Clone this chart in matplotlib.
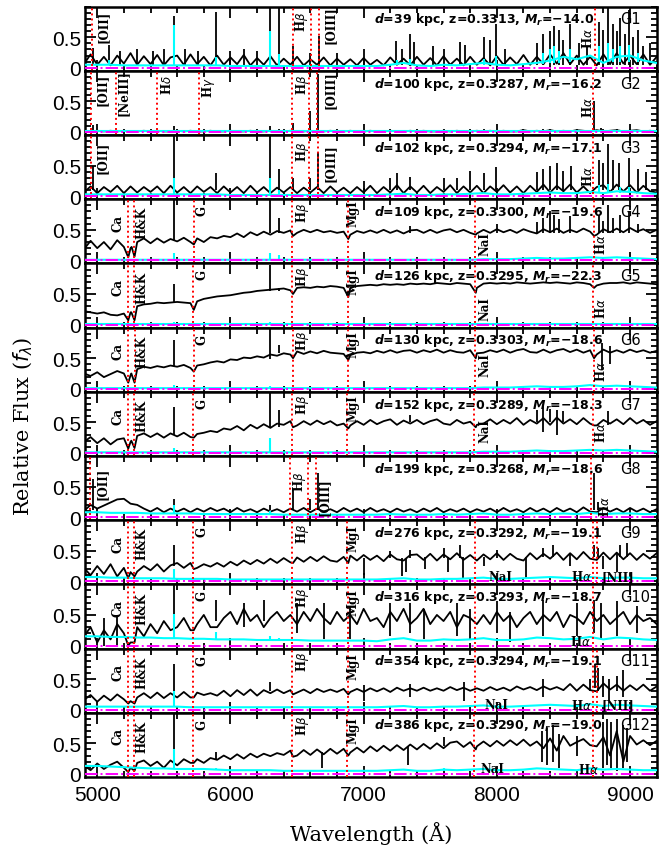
import numpy as np
import matplotlib
matplotlib.use('Agg')
from matplotlib import pyplot as plt
from matplotlib.ticker import MultipleLocator, FixedLocator, FixedFormatter

# wavelength grids (Angstrom) for the black spectra and the cyan error spectra
wave = np.arange(4900, 9201, 50)
wave_err = np.arange(4900, 9201, 100)

names = ['G1', 'G2', 'G3', 'G4', 'G5', 'G6', 'G7', 'G8', 'G9', 'G10', 'G11', 'G12']
dist = [39, 100, 102, 109, 126, 130, 152, 199, 276, 316, 354, 386]
zred = [0.3313, 0.3287, 0.3294, 0.3300, 0.3295, 0.3303, 0.3289, 0.3268, 0.3292, 0.3293, 0.3294, 0.3290]
mag = ['14.0', '16.2', '17.1', '19.6', '22.3', '18.6', '18.3', '18.6', '19.1', '18.7', '19.1', '19.0']

### fluxes (50 A grid) ###
g1_flux = [0.06, 0.22, 0.05, 0.18, 0.04, 0.20, 0.07, 0.24, 0.05, 0.19,
           0.06, 0.21, 0.04, 0.17, 0.20, 0.05, 0.22, 0.06, 0.18, 0.04,
           0.20, 0.05, 0.17, 0.06, 0.21, 0.04, 0.16, 0.05, 0.19, 0.04,
           0.15, 0.05, 0.18, 0.04, 0.14, 0.05, 0.17, 0.04, 0.15, 0.05,
           0.14, 0.04, 0.16, 0.05, 0.13, 0.04, 0.17, 0.05, 0.15, 0.04,
           0.18, 0.05, 0.16, 0.04, 0.19, 0.05, 0.15, 0.04, 0.18, 0.05,
           0.16, 0.04, 0.19, 0.05, 0.17, 0.06, 0.21, 0.05, 0.18, 0.06,
           0.22, 0.07, 0.24, 0.06, 0.20, 0.05, 0.18, 0.04, 0.22, 0.06,
           0.24, 0.07, 0.20, 0.06, 0.22, 0.05, 0.18]
g2_flux = [0.02, 0.01, 0.02, 0.01, 0.02, 0.01, 0.02, 0.01, 0.01, 0.02,
           0.01, 0.02, 0.01, 0.01, 0.02, 0.01, 0.02, 0.01, 0.01, 0.02,
           0.01, 0.01, 0.02, 0.01, 0.01, 0.02, 0.01, 0.01, 0.02, 0.01,
           0.01, 0.02, 0.01, 0.01, 0.02, 0.01, 0.01, 0.02, 0.01, 0.01,
           0.02, 0.01, 0.01, 0.02, 0.01, 0.01, 0.02, 0.01, 0.01, 0.02,
           0.01, 0.02, 0.01, 0.01, 0.02, 0.01, 0.02, 0.01, 0.01, 0.02,
           0.01, 0.02, 0.01, 0.02, 0.01, 0.01, 0.03, 0.01, 0.02, 0.01,
           0.03, 0.01, 0.02, 0.01, 0.03, 0.02, 0.01, 0.03, 0.01, 0.02,
           0.03, 0.01, 0.02, 0.03, 0.01, 0.02, 0.01]
g3_flux = [0.06, 0.16, 0.05, 0.15, 0.07, 0.17, 0.05, 0.16, 0.06, 0.15,
           0.07, 0.16, 0.05, 0.17, 0.06, 0.15, 0.05, 0.16, 0.07, 0.15,
           0.05, 0.16, 0.06, 0.15, 0.05, 0.17, 0.06, 0.15, 0.05, 0.14,
           0.06, 0.15, 0.05, 0.14, 0.06, 0.15, 0.05, 0.16, 0.06, 0.14,
           0.05, 0.15, 0.06, 0.17, 0.05, 0.15, 0.06, 0.18, 0.05, 0.16,
           0.06, 0.17, 0.05, 0.15, 0.07, 0.18, 0.05, 0.16, 0.06, 0.17,
           0.05, 0.16, 0.07, 0.18, 0.06, 0.16, 0.05, 0.17, 0.07, 0.19,
           0.06, 0.17, 0.08, 0.19, 0.06, 0.16, 0.05, 0.15, 0.18, 0.07,
           0.19, 0.08, 0.18, 0.06, 0.17, 0.08, 0.06]
g4_flux = [0.18, 0.32, 0.20, 0.30, 0.18, 0.33, 0.22, 0.20, 0.30, 0.36,
           0.28, 0.36, 0.29, 0.35, 0.31, 0.37, 0.30, 0.36, 0.30, 0.38,
           0.36, 0.40, 0.38, 0.44, 0.38, 0.46, 0.41, 0.47, 0.42, 0.48,
           0.45, 0.49, 0.45, 0.50, 0.46, 0.50, 0.46, 0.48, 0.45, 0.47,
           0.42, 0.48, 0.45, 0.49, 0.45, 0.50, 0.45, 0.49, 0.44, 0.49,
           0.50, 0.45, 0.50, 0.45, 0.49, 0.51, 0.46, 0.50, 0.45, 0.44,
           0.50, 0.45, 0.51, 0.46, 0.50, 0.45, 0.51, 0.47, 0.44, 0.51,
           0.46, 0.52, 0.45, 0.50, 0.46, 0.52, 0.47, 0.42, 0.51, 0.46,
           0.52, 0.46, 0.53, 0.47, 0.51, 0.45, 0.50]
g5_flux = [0.22, 0.20, 0.18, 0.20, 0.16, 0.15, 0.18, 0.20, 0.30, 0.33,
           0.34, 0.36, 0.35, 0.36, 0.37, 0.36, 0.35, 0.38, 0.42, 0.44,
           0.46, 0.47, 0.48, 0.50, 0.52, 0.53, 0.55, 0.56, 0.57, 0.58,
           0.59, 0.56, 0.60, 0.61, 0.60, 0.62, 0.61, 0.63, 0.62, 0.60,
           0.60, 0.63, 0.64, 0.65, 0.64, 0.66, 0.65, 0.66, 0.65, 0.67,
           0.66, 0.67, 0.66, 0.68, 0.67, 0.66, 0.68, 0.67, 0.66, 0.60,
           0.67, 0.68, 0.67, 0.68, 0.67, 0.69, 0.68, 0.67, 0.68, 0.69,
           0.68, 0.69, 0.68, 0.67, 0.69, 0.68, 0.66, 0.64, 0.67, 0.68,
           0.68, 0.69, 0.67, 0.69, 0.68, 0.67, 0.66]
g6_flux = [0.25, 0.21, 0.27, 0.19, 0.24, 0.29, 0.25, 0.22, 0.32, 0.36,
           0.34, 0.37, 0.35, 0.38, 0.36, 0.39, 0.34, 0.38, 0.40, 0.43,
           0.45, 0.43, 0.48, 0.47, 0.51, 0.50, 0.53, 0.51, 0.56, 0.54,
           0.58, 0.56, 0.61, 0.57, 0.61, 0.58, 0.62, 0.59, 0.58, 0.57,
           0.55, 0.59, 0.60, 0.58, 0.62, 0.59, 0.63, 0.59, 0.62, 0.63,
           0.59, 0.63, 0.60, 0.64, 0.59, 0.63, 0.60, 0.59, 0.63, 0.58,
           0.59, 0.63, 0.60, 0.64, 0.59, 0.63, 0.65, 0.60, 0.59, 0.64,
           0.59, 0.63, 0.65, 0.60, 0.64, 0.59, 0.63, 0.56, 0.64, 0.59,
           0.63, 0.59, 0.64, 0.60, 0.63, 0.59, 0.62]
g7_flux = [0.18, 0.26, 0.16, 0.24, 0.14, 0.22, 0.24, 0.18, 0.28, 0.32,
           0.26, 0.32, 0.25, 0.32, 0.27, 0.33, 0.26, 0.31, 0.33, 0.36,
           0.34, 0.40, 0.38, 0.44, 0.37, 0.46, 0.40, 0.47, 0.41, 0.48,
           0.46, 0.52, 0.45, 0.52, 0.46, 0.53, 0.47, 0.52, 0.45, 0.48,
           0.45, 0.52, 0.46, 0.54, 0.47, 0.52, 0.55, 0.46, 0.53, 0.48,
           0.54, 0.47, 0.52, 0.55, 0.48, 0.46, 0.54, 0.48, 0.51, 0.46,
           0.48, 0.55, 0.47, 0.54, 0.48, 0.57, 0.46, 0.54, 0.48, 0.57,
           0.46, 0.58, 0.48, 0.55, 0.47, 0.57, 0.48, 0.45, 0.54, 0.48,
           0.55, 0.47, 0.57, 0.48, 0.54, 0.46, 0.52]
g8_flux = [0.10, 0.20, 0.14, 0.19, 0.24, 0.29, 0.30, 0.22, 0.20, 0.14,
           0.09, 0.15, 0.08, 0.14, 0.09, 0.14, 0.08, 0.14, 0.09, 0.15,
           0.10, 0.14, 0.08, 0.15, 0.09, 0.13, 0.08, 0.14, 0.09, 0.13,
           0.08, 0.14, 0.09, 0.15, 0.08, 0.14, 0.09, 0.13, 0.08, 0.15,
           0.09, 0.14, 0.08, 0.15, 0.09, 0.13, 0.08, 0.14, 0.09, 0.13,
           0.08, 0.14, 0.09, 0.15, 0.08, 0.13, 0.09, 0.14, 0.08, 0.13,
           0.09, 0.14, 0.08, 0.15, 0.09, 0.13, 0.08, 0.15, 0.09, 0.14,
           0.08, 0.15, 0.09, 0.14, 0.08, 0.16, 0.09, 0.08, 0.15, 0.09,
           0.14, 0.08, 0.15, 0.09, 0.14, 0.08, 0.13]
g9_flux = [0.22, 0.10, 0.25, 0.12, 0.28, 0.08, 0.22, 0.15, 0.16, 0.25,
           0.18, 0.28, 0.16, 0.26, 0.30, 0.22, 0.30, 0.22, 0.28, 0.24,
           0.30, 0.24, 0.32, 0.26, 0.34, 0.28, 0.35, 0.29, 0.37, 0.30,
           0.38, 0.31, 0.39, 0.32, 0.40, 0.33, 0.41, 0.34, 0.32, 0.40,
           0.42, 0.34, 0.43, 0.35, 0.42, 0.33, 0.44, 0.36, 0.34, 0.43,
           0.44, 0.35, 0.45, 0.34, 0.44, 0.36, 0.46, 0.35, 0.43, 0.34,
           0.44, 0.36, 0.46, 0.35, 0.45, 0.37, 0.34, 0.46, 0.36, 0.45,
           0.37, 0.47, 0.35, 0.46, 0.36, 0.48, 0.37, 0.35, 0.47, 0.36,
           0.47, 0.36, 0.46, 0.35, 0.45, 0.37, 0.46]
g10_flux = [0.15, 0.30, 0.05, 0.25, 0.10, 0.35, 0.20, 0.05, 0.30, 0.15,
            0.35, 0.20, 0.40, 0.25, 0.30, 0.45, 0.25, 0.35, 0.50, 0.30,
            0.30, 0.45, 0.55, 0.35, 0.60, 0.40, 0.50, 0.30, 0.45, 0.55,
            0.40, 0.50, 0.35, 0.55, 0.40, 0.60, 0.45, 0.35, 0.55, 0.40,
            0.50, 0.35, 0.60, 0.40, 0.45, 0.30, 0.55, 0.40, 0.60, 0.35,
            0.45, 0.60, 0.35, 0.50, 0.40, 0.55, 0.30, 0.50, 0.45, 0.35,
            0.50, 0.35, 0.55, 0.40, 0.50, 0.30, 0.45, 0.55, 0.35, 0.50,
            0.40, 0.55, 0.30, 0.50, 0.45, 0.35, 0.55, 0.40, 0.50, 0.35,
            0.45, 0.55, 0.35, 0.50, 0.40, 0.45, 0.35]
g11_flux = [0.16, 0.24, 0.13, 0.23, 0.15, 0.25, 0.17, 0.14, 0.20, 0.27,
            0.19, 0.28, 0.19, 0.27, 0.20, 0.29, 0.20, 0.28, 0.24, 0.27,
            0.23, 0.31, 0.22, 0.32, 0.24, 0.33, 0.23, 0.32, 0.27, 0.33,
            0.27, 0.32, 0.28, 0.33, 0.27, 0.34, 0.29, 0.33, 0.29, 0.34,
            0.29, 0.34, 0.29, 0.35, 0.30, 0.35, 0.29, 0.36, 0.31, 0.35,
            0.31, 0.36, 0.31, 0.35, 0.31, 0.37, 0.32, 0.36, 0.31, 0.35,
            0.31, 0.37, 0.32, 0.36, 0.31, 0.38, 0.33, 0.37, 0.32, 0.38,
            0.33, 0.37, 0.32, 0.42, 0.31, 0.41, 0.32, 0.30, 0.43, 0.33,
            0.41, 0.31, 0.40, 0.32, 0.41, 0.31, 0.38]
g12_flux = [0.14, 0.06, 0.17, 0.08, 0.15, 0.20, 0.10, 0.10, 0.18, 0.22,
            0.13, 0.20, 0.10, 0.22, 0.14, 0.24, 0.18, 0.24, 0.18, 0.26,
            0.23, 0.30, 0.24, 0.32, 0.25, 0.33, 0.27, 0.33, 0.29, 0.34,
            0.31, 0.38, 0.30, 0.39, 0.31, 0.40, 0.32, 0.41, 0.33, 0.41,
            0.35, 0.43, 0.35, 0.45, 0.37, 0.46, 0.38, 0.47, 0.39, 0.48,
            0.40, 0.49, 0.41, 0.50, 0.42, 0.51, 0.53, 0.44, 0.52, 0.45,
            0.53, 0.45, 0.54, 0.46, 0.55, 0.47, 0.56, 0.46, 0.53, 0.42,
            0.58, 0.38, 0.62, 0.46, 0.52, 0.57, 0.47, 0.45, 0.60, 0.30,
            0.70, 0.20, 0.62, 0.48, 0.55, 0.47, 0.54]

### absorption features: (wavelength, flux) ###
g1_feat = []
g2_feat = []
g3_feat = []
g4_feat = [(5233, 0.05), (5258, 0.22), (5280, 0.06), (5725, 0.26), (6470, 0.40), (6885, 0.35), (7842, 0.42), (8730, 0.40)]
g5_feat = [(5233, 0.07), (5256, 0.20), (5280, 0.07), (5725, 0.24), (6470, 0.50), (6885, 0.45), (7842, 0.52), (8730, 0.60)]
g6_feat = [(5233, 0.10), (5256, 0.25), (5280, 0.10), (5725, 0.28), (6470, 0.50), (6885, 0.47), (7842, 0.50), (8730, 0.50)]
g7_feat = [(5233, 0.07), (5256, 0.20), (5280, 0.08), (5725, 0.25), (6470, 0.42), (6885, 0.40), (7842, 0.42), (8730, 0.45)]
g8_feat = []
g9_feat = [(5233, 0.05), (5280, 0.08), (5725, 0.20), (6470, 0.30), (6885, 0.30)]
g10_feat = [(5233, 0.00), (5280, 0.05), (5725, 0.25)]
g11_feat = [(5233, 0.10), (5280, 0.10), (5725, 0.20), (6470, 0.25), (6885, 0.25)]
g12_feat = [(5233, 0.03), (5280, 0.05), (5725, 0.18), (6470, 0.28), (6885, 0.30), (7842, 0.40)]

### narrow spikes: (wavelength, low, high) ###
g1_spk = [(4965, 0.05, 0.32), (5090, 0.05, 0.38), (5170, 0.05, 0.28), (5300, 0.05, 0.30), (5420, 0.05, 0.28),
          (5500, 0.05, 0.30), (5580, 0.05, 0.85), (5660, 0.05, 0.30), (5760, 0.05, 0.28), (5890, 0.05, 0.92),
          (6000, 0.05, 0.28), (6100, 0.05, 0.30), (6200, 0.05, 0.28), (6300, 0.05, 1.00), (6365, 0.05, 1.00),
          (6470, 0.05, 0.35), (6600, 0.05, 0.25), (6662, 0.05, 0.52), (6800, 0.05, 0.25), (7000, 0.05, 0.30),
          (7244, 0.05, 0.44), (7290, 0.05, 0.30), (7350, 0.05, 0.56), (7380, 0.05, 0.42), (7520, 0.05, 0.35),
          (7600, 0.05, 0.30), (7720, 0.05, 0.42), (7760, 0.05, 0.38), (7900, 0.05, 0.50), (7950, 0.05, 0.45),
          (7995, 0.05, 0.72), (8060, 0.05, 0.30), (8300, 0.05, 0.40), (8345, 0.05, 0.55), (8400, 0.05, 0.60),
          (8430, 0.05, 0.68), (8470, 0.05, 0.62), (8500, 0.05, 0.45), (8550, 0.05, 0.72), (8620, 0.05, 0.40),
          (8680, 0.05, 0.35), (8770, 0.05, 0.75), (8800, 0.05, 0.62), (8835, 0.05, 1.00), (8870, 0.05, 0.72),
          (8900, 0.05, 0.60), (8925, 0.05, 0.82), (8960, 0.05, 0.55), (8990, 0.05, 0.95), (9020, 0.05, 0.50),
          (9060, 0.05, 0.62), (9100, 0.05, 0.35), (9150, 0.05, 0.40)]
g2_spk = [(4965, 0.01, 0.12), (5580, 0.01, 0.10), (6300, 0.01, 0.10), (6365, 0.01, 0.05), (6470, 0.01, 0.15),
          (6596, 0.01, 0.35), (6660, 0.01, 0.95), (8730, 0.01, 0.50), (7900, 0.01, 0.05), (8350, 0.01, 0.05),
          (8780, 0.01, 0.06), (8900, 0.01, 0.05), (9000, 0.01, 0.05)]
g3_spk = [(4965, 0.10, 0.50), (5580, 0.10, 1.00), (5890, 0.10, 0.38), (6300, 0.10, 1.00), (6365, 0.10, 0.45),
          (6470, 0.10, 0.30), (6596, 0.10, 0.30), (6660, 0.10, 0.72), (7000, 0.10, 0.25), (7200, 0.10, 0.30),
          (7250, 0.10, 0.38), (7350, 0.10, 0.32), (7600, 0.10, 0.30), (7700, 0.10, 0.30), (7800, 0.10, 0.42),
          (7900, 0.10, 0.38), (7995, 0.10, 0.48), (8300, 0.10, 0.40), (8350, 0.10, 0.45), (8400, 0.10, 0.50),
          (8450, 0.10, 0.55), (8500, 0.10, 0.42), (8560, 0.10, 0.50), (8770, 0.10, 0.60), (8800, 0.10, 0.55),
          (8835, 0.10, 0.85), (8870, 0.10, 0.60), (8920, 0.10, 0.55), (8990, 0.10, 0.62), (9060, 0.10, 0.45),
          (9120, 0.10, 0.40)]
g4_spk = [(5580, 0.33, 1.00), (6300, 0.45, 1.00), (6365, 0.45, 0.70), (7350, 0.45, 0.56), (8000, 0.45, 0.60),
          (8300, 0.45, 0.62), (8345, 0.45, 0.70), (8400, 0.45, 0.80), (8430, 0.45, 0.75), (8470, 0.45, 0.68),
          (8550, 0.45, 0.72), (8770, 0.45, 0.75), (8800, 0.45, 0.65), (8835, 0.45, 0.90), (8870, 0.45, 0.70),
          (8925, 0.45, 0.75), (8990, 0.45, 0.80), (9060, 0.45, 0.60)]
g5_spk = [(5580, 0.37, 0.66), (6300, 0.55, 0.98), (6365, 0.55, 0.60)]
g6_spk = [(5580, 0.38, 0.80), (6300, 0.48, 0.98), (6365, 0.58, 0.72), (8790, 0.30, 0.75), (8850, 0.40, 0.70)]
g7_spk = [(5580, 0.30, 0.75), (6300, 0.42, 1.00), (6365, 0.42, 0.70), (7350, 0.50, 0.62), (8300, 0.50, 0.70),
          (8350, 0.35, 0.78), (8400, 0.50, 0.72), (8450, 0.30, 0.70), (8500, 0.50, 0.68), (8835, 0.45, 0.68)]
g8_spk = [(4965, 0.12, 0.62), (5580, 0.12, 0.30), (6300, 0.12, 0.20), (6470, 0.12, 0.45), (6596, 0.12, 0.30),
          (6660, 0.12, 0.72), (8730, 0.12, 0.72), (8760, 0.12, 0.25)]
g9_spk = [(7000, 0.10, 0.38), (7290, 0.08, 0.38), (7320, 0.15, 0.38), (7460, 0.20, 0.40), (7630, 0.15, 0.40),
          (7745, 0.05, 0.40), (7900, 0.25, 0.40), (8220, 0.05, 0.40), (8550, 0.25, 0.45), (8800, 0.20, 0.42),
          (8900, 0.15, 0.45), (5580, 0.25, 0.60), (7200, 0.38, 0.50), (7350, 0.38, 0.52), (7600, 0.38, 0.55),
          (7725, 0.38, 0.60), (8000, 0.38, 0.52), (8350, 0.40, 0.55), (8422, 0.40, 0.60), (8730, 0.40, 0.60),
          (8760, 0.40, 0.55), (8925, 0.40, 0.60), (8980, 0.40, 0.62)]
g10_spk = [(5580, 0.30, 1.00), (5890, 0.40, 0.75), (6100, 0.30, 0.70), (6250, 0.40, 0.75), (6500, 0.20, 0.70),
           (6700, 0.10, 0.70), (6900, 0.10, 0.65), (7200, 0.15, 0.70), (7350, 0.20, 0.70), (7450, 0.10, 0.60),
           (7700, 0.15, 0.70), (7800, 0.10, 0.60), (8000, 0.20, 0.72), (8100, 0.05, 0.55), (8350, 0.15, 0.75),
           (8600, 0.15, 0.70), (8730, 0.20, 0.75), (8780, 0.10, 0.70), (8900, 0.15, 0.72), (9050, 0.20, 0.65),
           (5050, 0.00, 0.45), (5150, 0.00, 0.50)]
g11_spk = [(5580, 0.25, 0.75), (6300, 0.30, 0.45), (7000, 0.15, 0.40), (7350, 0.20, 0.42), (7750, 0.15, 0.45),
           (8350, 0.20, 0.50), (8700, 0.30, 0.50), (8740, 0.35, 0.75), (8760, 0.30, 0.68), (8800, 0.20, 0.55),
           (8840, 0.15, 0.50), (8900, 0.30, 0.55), (8950, 0.20, 0.65)]
g12_spk = [(5580, 0.20, 1.00), (5890, 0.25, 0.35), (6690, 0.10, 0.35), (7330, 0.15, 0.45), (7600, 0.45, 0.60),
           (8340, 0.20, 0.70), (8380, 0.15, 0.75), (8420, 0.20, 0.80), (8470, 0.10, 0.65), (8600, 0.30, 0.62),
           (8800, 0.10, 0.85), (8830, 0.15, 0.90), (8860, 0.10, 0.85), (8900, 0.05, 0.90), (8950, 0.10, 0.80),
           (8980, 0.20, 0.75)]

### error spectra (100 A grid) ###
g1_err = [0.05, 0.05, 0.05, 0.04, 0.04, 0.04, 0.04, 0.04, 0.04, 0.04,
          0.04, 0.03, 0.03, 0.03, 0.03, 0.03, 0.03, 0.03, 0.03, 0.03,
          0.03, 0.03, 0.03, 0.05, 0.08, 0.04, 0.03, 0.05, 0.04, 0.06,
          0.08, 0.05, 0.04, 0.06, 0.08, 0.12, 0.18, 0.14, 0.20, 0.08,
          0.18, 0.20, 0.12, 0.08]
g2_err = [0.01] * 44
g3_err = [0.03, 0.03, 0.03, 0.03, 0.03, 0.03, 0.03, 0.03, 0.03, 0.03,
          0.03, 0.02, 0.02, 0.02, 0.02, 0.02, 0.02, 0.02, 0.02, 0.02,
          0.02, 0.02, 0.02, 0.03, 0.04, 0.02, 0.02, 0.03, 0.03, 0.04,
          0.05, 0.03, 0.03, 0.04, 0.05, 0.06, 0.05, 0.05, 0.07, 0.05,
          0.08, 0.07, 0.05, 0.04]
g4_err = [0.01] * 30 + [0.02, 0.02, 0.02, 0.03, 0.04, 0.03, 0.03, 0.04, 0.05, 0.04, 0.05, 0.04, 0.03, 0.02]
g5_err = [0.01] * 44
g6_err = [0.01] * 30 + [0.02, 0.02, 0.02, 0.03, 0.04, 0.03, 0.03, 0.04, 0.06, 0.04, 0.05, 0.04, 0.03, 0.02]
g7_err = [0.01] * 30 + [0.02, 0.02, 0.02, 0.03, 0.04, 0.03, 0.03, 0.04, 0.05, 0.04, 0.05, 0.04, 0.03, 0.02]
g8_err = [0.08, 0.08, 0.07, 0.07, 0.07, 0.06, 0.06, 0.06, 0.06, 0.05,
          0.05, 0.05, 0.05, 0.05, 0.05, 0.04, 0.04, 0.04, 0.04, 0.04,
          0.04, 0.04, 0.04, 0.05, 0.04, 0.04, 0.04, 0.05, 0.04, 0.05,
          0.06, 0.04, 0.04, 0.05, 0.06, 0.05, 0.06, 0.05, 0.07, 0.05,
          0.06, 0.06, 0.05, 0.05]
g9_err = [0.07, 0.07, 0.06, 0.06, 0.05, 0.05, 0.05, 0.04, 0.04, 0.04,
          0.04, 0.03, 0.03, 0.03, 0.03, 0.03, 0.03, 0.03, 0.03, 0.03,
          0.03, 0.03, 0.03, 0.04, 0.05, 0.03, 0.03, 0.04, 0.04, 0.05,
          0.06, 0.04, 0.04, 0.05, 0.06, 0.07, 0.06, 0.05, 0.07, 0.05,
          0.06, 0.06, 0.05, 0.05]
g10_err = [0.15, 0.15, 0.14, 0.14, 0.13, 0.13, 0.12, 0.12, 0.11, 0.11,
           0.10, 0.10, 0.10, 0.09, 0.09, 0.09, 0.09, 0.08, 0.08, 0.08,
           0.08, 0.08, 0.07, 0.10, 0.12, 0.08, 0.08, 0.10, 0.09, 0.10,
           0.12, 0.09, 0.09, 0.10, 0.13, 0.12, 0.10, 0.11, 0.14, 0.10,
           0.13, 0.12, 0.10, 0.09]
g11_err = [0.05, 0.05, 0.05, 0.05, 0.05, 0.05, 0.05, 0.05, 0.04, 0.04,
           0.04, 0.04, 0.04, 0.04, 0.04, 0.04, 0.04, 0.04, 0.04, 0.04,
           0.04, 0.04, 0.04, 0.05, 0.06, 0.04, 0.04, 0.05, 0.05, 0.06,
           0.07, 0.05, 0.05, 0.06, 0.07, 0.08, 0.07, 0.06, 0.09, 0.06,
           0.08, 0.07, 0.06, 0.05]
g12_err = [0.13, 0.13, 0.12, 0.11, 0.10, 0.09, 0.09, 0.08, 0.08, 0.08,
           0.07, 0.06, 0.06, 0.06, 0.06, 0.05, 0.05, 0.05, 0.05, 0.05,
           0.05, 0.05, 0.05, 0.06, 0.07, 0.05, 0.05, 0.07, 0.06, 0.07,
           0.08, 0.06, 0.06, 0.07, 0.09, 0.08, 0.07, 0.06, 0.09, 0.07,
           0.08, 0.07, 0.06, 0.06]

g1_errspk = [(5090, 0.04, 0.12), (5580, 0.04, 0.70), (5890, 0.04, 0.18), (6300, 0.03, 0.60), (6365, 0.03, 0.22),
             (7250, 0.04, 0.12), (7350, 0.04, 0.15), (7900, 0.05, 0.15), (7995, 0.05, 0.20), (8350, 0.06, 0.25),
             (8400, 0.08, 0.30), (8430, 0.08, 0.35), (8470, 0.08, 0.28), (8550, 0.1, 0.30), (8770, 0.1, 0.35),
             (8835, 0.1, 0.40), (8870, 0.1, 0.30), (8925, 0.1, 0.35), (8990, 0.1, 0.38), (9060, 0.1, 0.25)]
g2_errspk = []
g3_errspk = [(5580, 0.03, 0.30), (6300, 0.02, 0.30), (6365, 0.02, 0.10), (8770, 0.05, 0.18), (8835, 0.05, 0.20),
             (8925, 0.05, 0.15), (8990, 0.05, 0.15)]
g4_errspk = [(5580, 0.01, 0.12), (6300, 0.01, 0.12), (6365, 0.01, 0.08)]
g5_errspk = [(5580, 0.01, 0.05), (6300, 0.01, 0.04)]
g6_errspk = [(5580, 0.01, 0.06), (6300, 0.01, 0.05)]
g7_errspk = [(5580, 0.01, 0.08), (6300, 0.01, 0.25)]
g8_errspk = [(5580, 0.06, 0.20), (6300, 0.04, 0.10)]
g9_errspk = [(5580, 0.04, 0.20), (5890, 0.03, 0.06)]
g10_errspk = [(5580, 0.12, 0.52), (5890, 0.10, 0.22), (6300, 0.09, 0.15), (6365, 0.09, 0.12)]
g11_errspk = [(5580, 0.04, 0.30)]
g12_errspk = [(5580, 0.08, 0.40), (5890, 0.06, 0.10), (7600, 0.05, 0.10)]

fluxes = [g1_flux, g2_flux, g3_flux, g4_flux, g5_flux, g6_flux, g7_flux, g8_flux, g9_flux, g10_flux, g11_flux, g12_flux]
feats = [g1_feat, g2_feat, g3_feat, g4_feat, g5_feat, g6_feat, g7_feat, g8_feat, g9_feat, g10_feat, g11_feat, g12_feat]
spikes = [g1_spk, g2_spk, g3_spk, g4_spk, g5_spk, g6_spk, g7_spk, g8_spk, g9_spk, g10_spk, g11_spk, g12_spk]
errs = [g1_err, g2_err, g3_err, g4_err, g5_err, g6_err, g7_err, g8_err, g9_err, g10_err, g11_err, g12_err]
errspikes = [g1_errspk, g2_errspk, g3_errspk, g4_errspk, g5_errspk, g6_errspk, g7_errspk, g8_errspk,
             g9_errspk, g10_errspk, g11_errspk, g12_errspk]

### rest-frame lines ###
rest = {'OII': 3727, 'NeIII': 3869, 'Hd': 4102, 'Hg': 4340, 'Hb': 4861, 'OIII1': 4959, 'OIII2': 5007,
        'Ha': 6563, 'NII': 6583, 'CaK': 3934, 'CaH': 3969, 'G': 4304, 'MgI': 5175, 'NaI': 5893}
em_lines = ['OII', 'Hb', 'OIII1', 'OIII2', 'Ha']
abs_lines = ['CaK', 'CaH', 'G', 'Hb', 'MgI', 'NaI', 'Ha']
panel_lines = [em_lines, ['OII', 'NeIII', 'Hd', 'Hg', 'Hb', 'OIII1', 'OIII2', 'Ha'], em_lines,
               abs_lines, abs_lines, abs_lines, abs_lines, em_lines,
               abs_lines + ['NII'], abs_lines, abs_lines + ['NII'], abs_lines]

# labels: (text, wavelength, y, rotation)
emis_lab = [('[OII]', 5045, 0.68, 90), (r'H$\beta$', 6530, 0.76, 90), ('[OIII]', 6745, 0.72, 90)]
abs_lab = [('Ca', 5158, 0.62, 90), ('H&K', 5338, 0.62, 90), ('G', 5788, 0.82, 90), (r'H$\beta$', 6538, 0.8, 90)]
labels = [
    emis_lab + [(r'H$\alpha$', 8685, 0.50, 90)],
    [('[OII]', 5036, 0.70, 90), ('[NeIII]', 5196, 0.65, 90), (r'H$\delta$', 5525, 0.78, 90),
     (r'H$\gamma$', 5833, 0.74, 90), (r'H$\beta$', 6538, 0.78, 90), ('[OIII]', 6750, 0.70, 90),
     (r'H$\alpha$', 8685, 0.41, 90)],
    [('[OII]', 5036, 0.64, 90), (r'H$\beta$', 6538, 0.74, 90), ('[OIII]', 6750, 0.55, 90),
     (r'H$\alpha$', 8685, 0.33, 90)],
    abs_lab + [('MgI', 6921, 0.78, 90), ('NaI', 7912, 0.28, 90), (r'H$\alpha$', 8783, 0.28, 90)],
    abs_lab + [('MgI', 6921, 0.72, 90), ('NaI', 7912, 0.27, 90), (r'H$\alpha$', 8783, 0.27, 90)],
    abs_lab + [('MgI', 6921, 0.74, 90), ('NaI', 7912, 0.40, 90), (r'H$\alpha$', 8783, 0.30, 90)],
    abs_lab + [('MgI', 6921, 0.74, 90), ('NaI', 7912, 0.38, 90), (r'H$\alpha$', 8783, 0.35, 90)],
    [('[OII]', 5036, 0.56, 90), (r'H$\beta$', 6520, 0.60, 90), ('[OIII]', 6700, 0.35, 90),
     (r'H$\alpha$', 8810, 0.18, 90)],
    abs_lab + [('MgI', 6921, 0.72, 90), ('NaI', 8025, 0.08, 0), (r'H$\alpha$', 8632, 0.08, 0),
               ('[NII]', 8910, 0.08, 0)],
    abs_lab + [('MgI', 6921, 0.72, 90), (r'H$\alpha$', 8625, 0.08, 0)],
    abs_lab + [('MgI', 6921, 0.72, 90), ('NaI', 8000, 0.08, 0), (r'H$\alpha$', 8632, 0.08, 0),
               ('[NII]', 8910, 0.08, 0)],
    abs_lab + [('MgI', 6921, 0.72, 90), ('NaI', 7970, 0.08, 0), (r'H$\alpha$', 8685, 0.08, 0)],
]

###### Plot ######
fig, axes = plt.subplots(12, 1, figsize=(6.66, 8.53), dpi=100, sharex=True)
fig.subplots_adjust(left=0.128, right=0.986, top=0.991, bottom=0.088, hspace=0)

for i, ax in enumerate(axes):
    fw = list(wave) + [f[0] for f in feats[i]]
    ff = list(fluxes[i]) + [f[1] for f in feats[i]]
    order = np.argsort(fw)
    ax.plot(np.array(fw)[order], np.array(ff)[order], color='black', lw=1.3, zorder=2)
    if spikes[i]:
        s = np.array(spikes[i])
        ax.vlines(s[:, 0], s[:, 1], s[:, 2], color='black', lw=1.3, zorder=2)
    ax.plot(wave_err, errs[i], color='cyan', lw=1.5, zorder=3)
    if errspikes[i]:
        s = np.array(errspikes[i])
        ax.vlines(s[:, 0], s[:, 1], s[:, 2], color='cyan', lw=1.5, zorder=3)
    ax.axhline(0, color='magenta', ls='-.', lw=1.4, zorder=4)

    for ln in panel_lines[i]:
        ax.axvline(rest[ln] * (1 + zred[i]), color='red', ls=(0, (1, 1.6)), lw=1.4, zorder=5)

    for txt, xw, yv, rot in labels[i]:
        ax.text(xw, yv, txt, rotation=rot, ha='center', va='center', fontsize=8.5,
                fontweight='bold', family='DejaVu Serif', zorder=6)

    info = r'$\mathbfit{d}$=%d kpc, z=%.4f, $\mathbfit{M_r}$=$\mathbf{-}$%s' % (dist[i], zred[i], mag[i])
    ax.text(7080, 0.80, info, ha='left', va='center', fontsize=9, fontweight='bold', zorder=6)
    ax.text(8925, 0.80, names[i], ha='left', va='center', fontsize=10.5, zorder=6)

    ax.set_xlim(4910, 9200)
    ax.set_ylim(-0.05, 1.0)
    ax.yaxis.set_major_locator(FixedLocator([0, 0.5]))
    ax.yaxis.set_major_formatter(FixedFormatter(['0', '0.5']))
    ax.yaxis.set_minor_locator(MultipleLocator(0.1))
    ax.xaxis.set_major_locator(MultipleLocator(1000))
    ax.xaxis.set_minor_locator(MultipleLocator(200))
    ax.tick_params(which='both', direction='in', top=True, right=True, width=1.3)
    ax.tick_params(which='major', length=8, labelsize=15, pad=3)
    ax.tick_params(axis='x', which='major', pad=6)
    ax.tick_params(which='minor', length=4)
    for sp in ax.spines.values():
        sp.set_linewidth(1.8)
    for lab in ax.get_yticklabels() + ax.get_xticklabels():
        lab.set_family('Liberation Sans')

axes[-1].set_xlabel('Wavelength (Å)', family='DejaVu Serif', fontsize=15, labelpad=12)
fig.text(0.035, 0.5, r'Relative Flux ($f_\lambda$)', rotation=90, ha='center', va='center',
         family='DejaVu Serif', fontsize=15)

fig.savefig('out.png', dpi=100)
